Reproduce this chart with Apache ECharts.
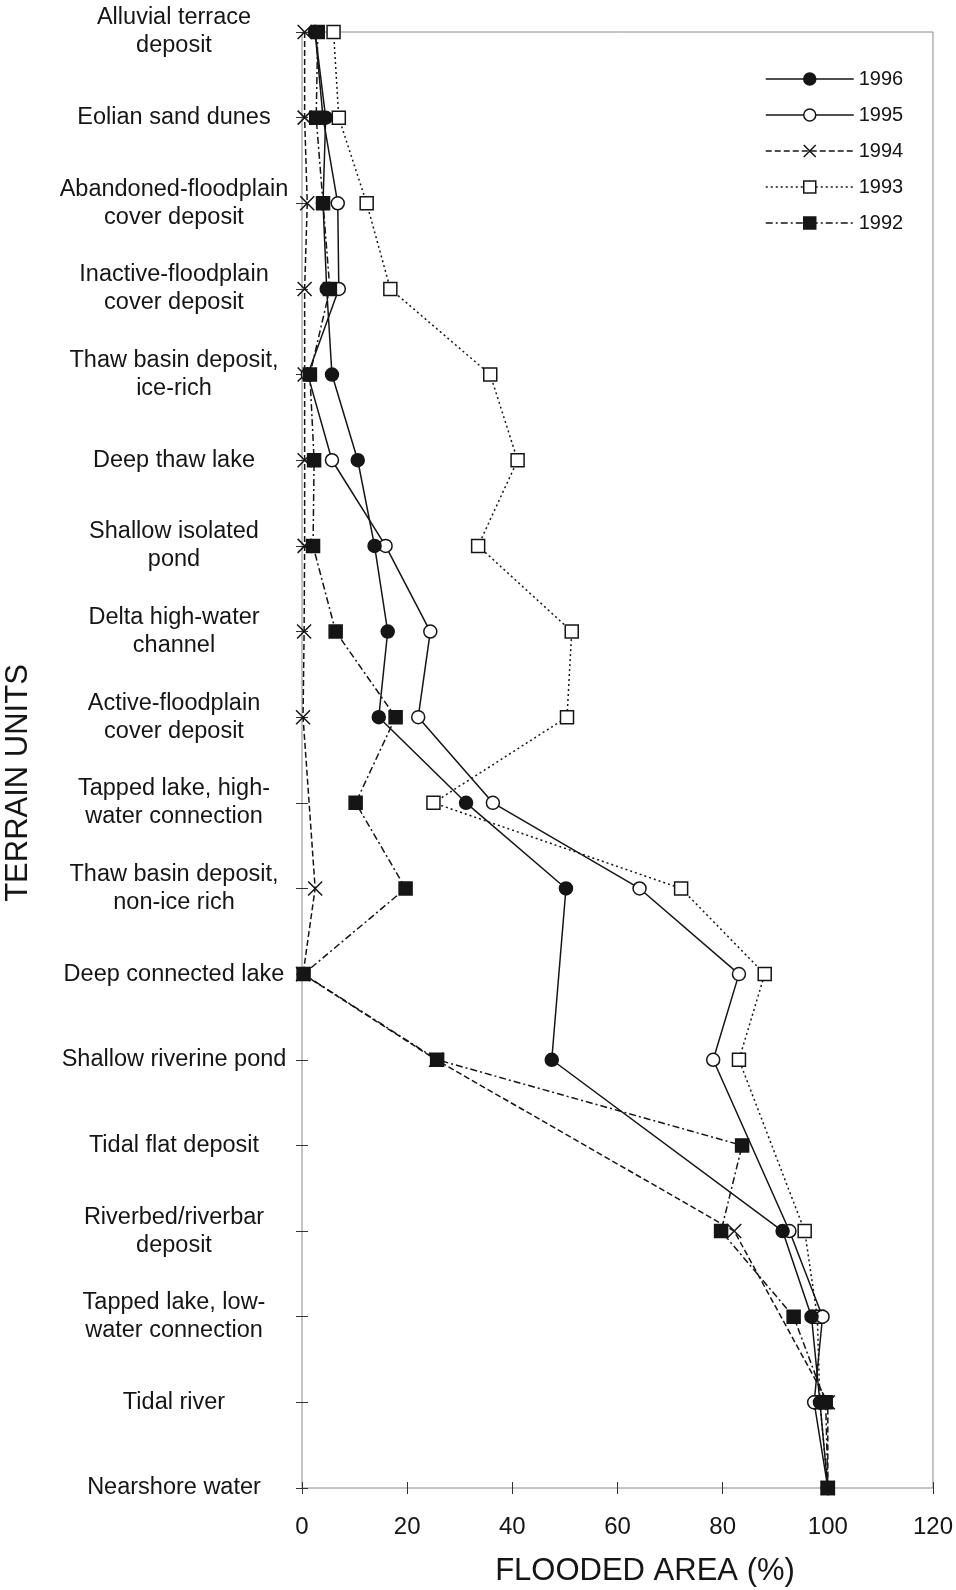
<!DOCTYPE html>
<html>
<head>
<meta charset="utf-8">
<script src="https://cdn.jsdelivr.net/npm/echarts@6/dist/echarts.min.js"></script>
<style>
  html, body { margin: 0; padding: 0; background: #fff; }
  #chart { width: 956px; height: 1590px; }
</style>
</head>
<body>
<div id="chart"></div>
<script>
// Terrain units, top to bottom
const categories = [
  'Alluvial terrace\ndeposit',
  'Eolian sand dunes',
  'Abandoned-floodplain\ncover deposit',
  'Inactive-floodplain\ncover deposit',
  'Thaw basin deposit,\nice-rich',
  'Deep thaw lake',
  'Shallow isolated\npond',
  'Delta high-water\nchannel',
  'Active-floodplain\ncover deposit',
  'Tapped lake, high-\nwater connection',
  'Thaw basin deposit,\nnon-ice rich',
  'Deep connected lake',
  'Shallow riverine pond',
  'Tidal flat deposit',
  'Riverbed/riverbar\ndeposit',
  'Tapped lake, low-\nwater connection',
  'Tidal river',
  'Nearshore water'
];

// Flooded area (%) per terrain unit; null = no value for that year
const flood1996 = [2.5, 4.5, 4, 4.7, 5.7, 10.6, 13.8, 16.3, 14.6, 31.2, 50.2, null, 47.5, null, 91.4, 96.9, 98.5, 100];
const flood1995 = [2.5, 4.0, 6.8, 7, 1.1, 5.7, 15.9, 24.4, 22.1, 36.3, 64.2, 83.1, 78.2, null, 92.7, 99, 97.4, 100];
const flood1994 = [0.5, 0.5, 1, 0.5, 0.5, 0.5, 0.5, 0.4, 0.2, null, 2.5, 0.2, 25.5, null, 82.2, null, 100, 100];
const flood1993 = [6, 7, 12.3, 16.8, 35.8, 41, 33.5, 51.3, 50.4, 25, 72.1, 88, 83.1, null, 95.6, 98, 98.5, 100];
const flood1992 = [3, 2.7, 4, 5.3, 1.5, 2.3, 2.1, 6.4, 17.8, 10.2, 19.7, 0.3, 25.7, 83.7, 79.7, 93.5, 99.6, 100];

const years = ['1996', '1995', '1994', '1993', '1992'];
const xTicks = { min: 0, max: 120, interval: 20 };

const INK = '#151515';
const FONT = '"Liberation Sans", Arial, Helvetica, sans-serif';
const CROSS = 'path://M0,0L10,10M10,0L0,10';

function lineSeries(name, data, symbol, fill, dash, size) {
  return {
    name: name,
    type: 'line',
    data: data,
    connectNulls: true,
    clip: false,
    symbol: symbol,
    symbolSize: size,
    showAllSymbol: true,
    lineStyle: { color: INK, width: 1.5, type: dash },
    itemStyle: { color: fill, borderColor: INK, borderWidth: 1.5 },
    emphasis: { disabled: true }
  };
}

const chart = echarts.init(document.getElementById('chart'), null, { renderer: 'canvas' });

chart.setOption({
  backgroundColor: '#fff',
  animation: false,
  textStyle: { fontFamily: FONT },
  grid: {
    left: 302, right: 20, top: 32, bottom: 102,
    show: true, borderColor: '#8a8a8a', borderWidth: 1
  },
  legend: {
    data: years,
    orient: 'vertical',
    left: 760, top: 64,
    itemWidth: 88, itemHeight: 15, itemGap: 16,
    selectedMode: false,
    lineStyle: { width: 1.5 },
    itemStyle: { borderWidth: 1.5 },
    textStyle: { fontSize: 20, lineHeight: 20, color: INK, fontFamily: FONT }
  },
  xAxis: {
    type: 'value',
    min: xTicks.min, max: xTicks.max, interval: xTicks.interval,
    position: 'bottom',
    offset: -6,
    axisLine: { show: false },
    axisTick: { show: true, inside: false, length: 12, lineStyle: { color: '#333', width: 1 } },
    splitLine: { show: false },
    axisLabel: { fontSize: 24, color: INK, margin: 33, fontFamily: FONT }
  },
  yAxis: {
    type: 'category',
    data: categories,
    inverse: true,
    boundaryGap: false,
    position: 'left',
    offset: -6,
    axisLine: { show: false },
    axisTick: { show: true, inside: false, length: 12, lineStyle: { color: '#333', width: 1 } },
    splitLine: { show: false },
    axisLabel: {
      interval: 0, fontSize: 23.5, lineHeight: 28, color: INK,
      align: 'center', margin: 134, fontFamily: FONT
    }
  },
  graphic: [
    {
      type: 'text', x: 18, y: 783, rotation: Math.PI / 2,
      style: {
        text: 'TERRAIN UNITS', fontSize: 31, fill: INK, fontFamily: FONT,
        align: 'center', verticalAlign: 'middle'
      }
    },
    {
      type: 'text', x: 645, y: 1571,
      style: {
        text: 'FLOODED AREA (%)', fontSize: 31, fill: INK, fontFamily: FONT,
        align: 'center', verticalAlign: 'middle'
      }
    }
  ],
  series: [
    lineSeries('1993', flood1993, 'rect', '#fff', [2, 3], 13),
    lineSeries('1994', flood1994, CROSS, 'none', [6, 3], 14),
    lineSeries('1995', flood1995, 'circle', '#fff', 'solid', 13),
    lineSeries('1996', flood1996, 'circle', INK, 'solid', 13),
    lineSeries('1992', flood1992, 'rect', INK, [7, 3, 2, 3], 13)
  ]
});
</script>
</body>
</html>
